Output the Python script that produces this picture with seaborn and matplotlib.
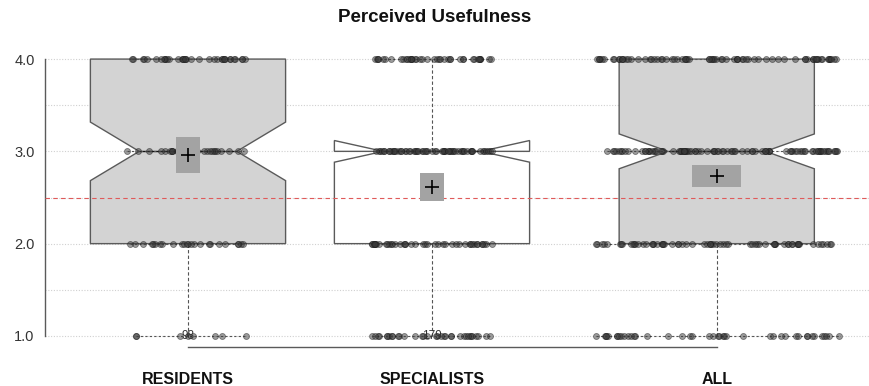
import numpy as np
import pandas as pd
import matplotlib
matplotlib.use("Agg")
import matplotlib.pyplot as plt
import seaborn as sns
from matplotlib.patches import Rectangle

# ---- data: answer counts on the 1-4 scale ----
groups = ["RESIDENTS", "SPECIALISTS", "ALL"]
levels = [1, 2, 3, 4]
residents_counts = [8, 24, 30, 36]
specialists_counts = [34, 42, 62, 41]
# the ALL group pools both samples
all_counts = [r + s for r, s in zip(residents_counts, specialists_counts)]
counts = [residents_counts, specialists_counts, all_counts]
labelled_groups = ["RESIDENTS", "SPECIALISTS"]
title = "Perceived Usefulness"
reference_level = 2.5

# ---- layout / style ----
positions = [1.0, 2.0, 3.167]
box_fill = {"RESIDENTS": "#d3d3d3", "SPECIALISTS": "#ffffff", "ALL": "#d3d3d3"}
jitter = {"RESIDENTS": 0.25, "SPECIALISTS": 0.25, "ALL": 0.5}
ci_box_width = {"RESIDENTS": 0.10, "SPECIALISTS": 0.10, "ALL": 0.20}

rows = []
for g, p, c in zip(groups, positions, counts):
    for lv, k in zip(levels, c):
        rows += [{"group": g, "pos": p, "score": lv}] * k
df = pd.DataFrame(rows)

sns.set_style("white")
plt.rcParams["font.family"] = ["Liberation Sans", "DejaVu Sans"]

W, H = 869, 386
fig = plt.figure(figsize=(W / 100, H / 100), dpi=100)
ax = fig.add_axes([45 / W, (H - 347) / H, (W - 45) / W, (347 - 48) / H])

# notched boxes
sns.boxplot(
    data=df, x="pos", y="score", hue="group", palette=box_fill,
    native_scale=True, dodge=False, width=0.8, saturation=1, legend=False,
    notch=True, showcaps=False, showfliers=False,
    linecolor="#5a5a5a", linewidth=1.0,
    whiskerprops=dict(linestyle=(0, (3, 2)), color="#555555", linewidth=0.8),
    medianprops=dict(color="#111111", linewidth=1.0),
    ax=ax, zorder=2,
)

# jittered responses
np.random.seed(7)
for g in groups:
    sub = df[df["group"] == g]
    n_before = len(ax.collections)
    sns.stripplot(
        data=sub, x="pos", y="score", native_scale=True, jitter=jitter[g],
        color="#3a3a3a", alpha=0.5, size=4.3, linewidth=0.6,
        edgecolor="#1a1a1a", ax=ax, zorder=4,
    )
    pts = np.vstack([c.get_offsets() for c in ax.collections[n_before:]])
    for lv in levels:
        xs = pts[np.isclose(pts[:, 1], lv), 0]
        if len(xs):
            ax.plot([xs.min(), xs.max()], [lv, lv], color="#555555",
                    linestyle=(0, (2, 2)), linewidth=0.8, zorder=3)

# mean with 95% confidence band, plus group size
for g, p in zip(groups, positions):
    vals = df.loc[df["group"] == g, "score"].to_numpy(float)
    m = vals.mean()
    half = 1.96 * vals.std(ddof=1) / np.sqrt(len(vals))
    w = ci_box_width[g]
    ax.add_patch(Rectangle((p - w / 2, m - half), w, 2 * half,
                           facecolor="#a3a3a3", edgecolor="none", zorder=5))
    ax.plot(p, m, marker="+", color="black", markersize=10, mew=1.2, zorder=6)
    if g in labelled_groups:
        ax.text(p, 1.0, str(len(vals)), ha="center", va="center",
                fontsize=8.5, color="#333333", zorder=6)

ax.axhline(reference_level, color="#e05a5a", linestyle=(0, (4, 3)),
           linewidth=0.8, zorder=4.5)

ax.set_xlim(0.414, 3.791)
ax.set_ylim(0.88, 4.12)
ax.set_yticks(levels)
ax.set_yticklabels([f"{v:.1f}" for v in levels], fontsize=10.5, color="#333333")
ax.set_yticks([1.5, 2.5, 3.5], minor=True)
ax.grid(True, axis="y", which="both", color="#d0d0d0",
        linestyle=(0, (1, 1.5)), linewidth=0.8, zorder=0)
ax.set_axisbelow(True)
ax.set_xticks(positions)
ax.set_xticklabels(groups, fontsize=11.5, fontweight="bold", color="#111111")
ax.tick_params(axis="x", direction="in", length=5, width=1, color="#5a5a5a", pad=18)
ax.tick_params(axis="y", which="major", direction="out", length=4.5, width=1,
               color="#5a5a5a", pad=3)
ax.tick_params(axis="y", which="minor", length=0)
ax.set_xlabel("")
ax.set_ylabel("")
for s in ["top", "right"]:
    ax.spines[s].set_visible(False)
for s in ["left", "bottom"]:
    ax.spines[s].set_visible(True)
    ax.spines[s].set_color("#5a5a5a")
    ax.spines[s].set_linewidth(1.0)
ax.spines["left"].set_bounds(1, 4)
ax.spines["bottom"].set_bounds(positions[0], positions[-1])

fig.text(0.5, 1 - 18 / H, title, ha="center", va="center",
         fontsize=13.5, fontweight="bold", color="#111111")

fig.savefig("out.png", dpi=100)
